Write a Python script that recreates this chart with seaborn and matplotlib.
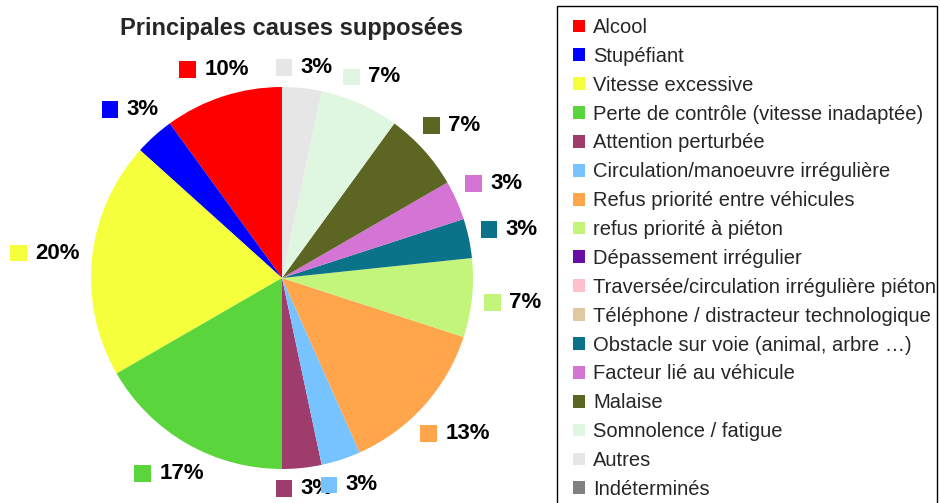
import numpy as np
import matplotlib
matplotlib.use("Agg")
import matplotlib.pyplot as plt
import seaborn as sns
from matplotlib.patches import Rectangle, Patch
from matplotlib.offsetbox import DrawingArea, TextArea, HPacker, AnnotationBbox

# Data: number of accidents per supposed cause (out of 30)
causes = [
    "Alcool", "Stupéfiant", "Vitesse excessive",
    "Perte de contrôle (vitesse inadaptée)", "Attention perturbée",
    "Circulation/manoeuvre irrégulière", "Refus priorité entre véhicules",
    "refus priorité à piéton", "Dépassement irrégulier",
    "Traversée/circulation irrégulière piéton",
    "Téléphone / distracteur technologique",
    "Obstacle sur voie (animal, arbre \u2026)", "Facteur lié au véhicule",
    "Malaise", "Somnolence / fatigue", "Autres", "Indéterminés",
]
counts = [3, 1, 6, 5, 1, 1, 4, 2, 0, 0, 0, 1, 1, 2, 2, 1, 0]
colors = [
    "#FF0000", "#0000FF", "#F6FF3B", "#5AD63C", "#9E3D6B", "#77C3FF",
    "#FFA64D", "#C3F57A", "#6A0DA5", "#FFC0CB", "#E0C9A0", "#0A7289",
    "#D474D4", "#5D6523", "#DFF7E0", "#E6E6E6", "#808080",
]

sns.set_theme(style="white")
plt.rcParams["font.family"] = ["Liberation Sans", "DejaVu Sans"]

W, H = 940, 503
fig = plt.figure(figsize=(W / 100, H / 100), dpi=100)
renderer = fig.canvas.get_renderer()

# pie axes: centre at (282, 278) px, radius 191 px
R = 191.0
cx, cy = 282.0, 278.0
ax_w = 560
ax = fig.add_axes([0, 0, ax_w / W, 1])

wedges, _ = ax.pie(counts, colors=colors, startangle=90, counterclock=True,
                   radius=1, wedgeprops=dict(linewidth=0))
ax.set_xlim(-cx / R, (ax_w - cx) / R)
ax.set_ylim(-(H - cy) / R, cy / R)
ax.set_aspect("equal")
ax.axis("off")


def label_box(pct, c):
    da = DrawingArea(12, 12, 0, 0)
    da.add_artist(Rectangle((0, 0), 12, 12, facecolor=c, edgecolor="none"))
    ta = TextArea(pct, textprops=dict(fontsize=16, fontweight="bold", color="black"))
    return HPacker(children=[da, ta], align="center", pad=0, sep=6)


# percentage labels: coloured key + bold value, placed outside the wedge
total = sum(counts)
gap = 12
for w, n, c in zip(wedges, counts, colors):
    if n == 0:
        continue
    th = np.deg2rad((w.theta1 + w.theta2) / 2)
    pct = f"{100 * n / total:.0f}%"
    # measure the label block first
    probe = AnnotationBbox(label_box(pct, c), (0, 0), frameon=False, pad=0)
    ax.add_artist(probe)
    bw = probe.offsetbox.get_bbox(renderer).width
    probe.remove()
    d = abs(bw / 2 * np.cos(th)) + abs(6 * np.sin(th))
    r = (R + gap + d) / R
    ab = AnnotationBbox(label_box(pct, c), (r * np.cos(th), r * np.sin(th)),
                        frameon=False, box_alignment=(0.5, 0.5), pad=0)
    ax.add_artist(ab)

fig.text(292 / W, 1 - 28 / H, "Principales causes supposées", ha="center", va="center",
         fontsize=17, fontweight="bold")

# legend with a plain black frame running off the bottom edge
handles = [Patch(facecolor=c, edgecolor="none") for c in colors]
leg = fig.legend(handles, causes, loc="upper left", bbox_to_anchor=(573 / W, 1 - 18 / H),
                 frameon=False, fontsize=14.5,
                 handlelength=0.6, handleheight=0.6, handletextpad=0.4,
                 labelspacing=0.49, borderpad=0, borderaxespad=0)
fig.patches.append(Rectangle((557 / W, -0.05), 380 / W, 0.05 + 1 - 6 / H,
                             transform=fig.transFigure, facecolor="none",
                             edgecolor="black", linewidth=1.0))

fig.savefig("out.png", dpi=100, facecolor="white")
